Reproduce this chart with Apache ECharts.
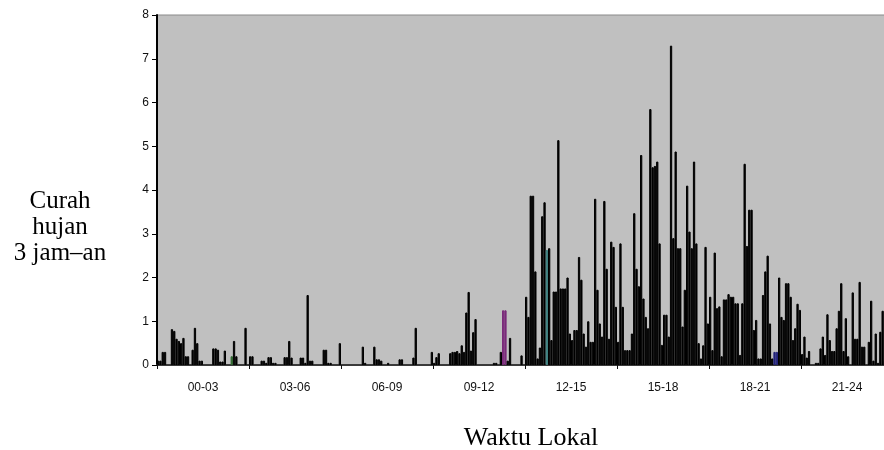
<!DOCTYPE html>
<html>
<head>
<meta charset="utf-8">
<script src="https://cdn.jsdelivr.net/npm/echarts@6/dist/echarts.min.js"></script>
<style>
html,body{margin:0;padding:0;background:#fff;}
#chart{width:884px;height:450px;}
</style>
</head>
<body>
<div id="chart"></div>
<script>
// 3-hour period categories (x-axis labels)
const periods = ['00-03','03-06','06-09','09-12','12-15','15-18','18-21','21-24'];

// Rainfall values, 40 bars per 3-hour period
const v0003 = [0.1,0.1,0.3,0.3,0,0,0.82,0.78,0.6,0.55, 0.5,0.62,0.2,0.2,0,0.35,0.85,0.5,0.1,0.1, 0,0,0,0,0.38,0.38,0.35,0.08,0.08,0.33, 0,0,0.2,0.55,0.2,0,0,0,0.85,0];
const v0306 = [0.2,0.2,0,0,0,0.1,0.1,0.05,0.18,0.18, 0.05,0.05,0,0,0,0.18,0.18,0.55,0.17,0, 0,0,0.17,0.17,0.05,1.6,0.1,0.1,0,0, 0,0,0.35,0.35,0.05,0.05,0,0,0,0.5];
const v0609 = [0,0,0,0,0,0,0,0,0,0.42, 0.05,0,0,0,0.42,0.13,0.13,0.1,0,0, 0.05,0,0,0,0,0.13,0.13,0,0,0, 0,0.17,0.85,0,0,0,0,0,0,0.3];
const v0912 = [0.05,0.18,0.27,0,0,0,0,0.27,0.3,0.3, 0.32,0.27,0.45,0.3,1.2,1.67,0.33,0.75,1.05,0, 0,0,0,0,0,0,0.05,0.05,0,0.3, 1.25,1.25,0.1,0.62,0,0,0,0,0.22,0];
const v1215 = [1.56,1.1,3.87,3.87,2.14,0.15,0.4,3.4,3.72,2.63, 2.67,0.57,1.68,1.68,5.14,1.75,1.75,1.75,2.0,0.72, 0.57,0.8,0.8,2.47,1.95,0.72,0.42,1.0,0.53,0.53, 3.8,1.72,0.95,0.65,3.75,2.2,0.6,2.82,2.7,1.33];
const v1518 = [0.53,2.78,1.33,0.34,0.34,0.34,0.72,3.47,2.2,1.8, 4.8,1.52,1.1,0.84,5.85,4.52,4.55,4.65,2.78,0.46, 1.15,1.15,0.65,7.3,2.9,4.88,2.67,2.67,0.88,1.72, 4.1,3.05,2.67,4.65,2.78,0.5,0.15,0.45,2.7,0.95];
const v1821 = [1.56,0.34,2.57,1.3,1.34,0.2,1.5,1.5,1.62,1.56, 1.56,1.41,1.41,0.23,1.41,4.6,2.72,3.55,3.55,0.8, 1.03,0.15,0.15,1.6,2.14,2.5,0.95,0.15,0.3,0.3, 2.0,1.1,1.03,1.87,1.87,1.56,0.57,0.84,1.4,1.26];
const v2124 = [0.25,0.65,0.17,0.32,0,0,0.05,0.05,0.38,0.65, 0.23,1.16,0.57,0.32,0.32,0.84,1.24,1.87,0.32,1.07, 0.2,0,1.66,0.6,0.6,1.9,0.42,0.42,0,0.53, 1.47,0.1,0.72,0.05,0.76,1.24,0.1,0,0,0];

const allValues = [].concat(v0003, v0306, v0609, v0912, v1215, v1518, v1821, v2124);
const barSlots = allValues.map((_, i) => String(i));

// a few bars drawn in colour in the original
const accent = {32:'#2f6a2f', 150:'#7a2a7a', 151:'#7a2a7a', 169:'#3d8080', 268:'#23237a', 269:'#23237a'};

const barData = allValues.map((v, i) => {
  const c = accent[i] || '#000000';
  return {value:v, itemStyle:{color:c, borderColor:c, borderWidth: v > 0 ? 1 : 0}};
});

const chart = echarts.init(document.getElementById('chart'), null, {renderer:'canvas'});
chart.setOption({
  animation:false,
  backgroundColor:'#ffffff',
  grid:{left:157, top:15, width:736, height:350, outerBoundsMode:'none', containLabel:false,
        show:true, backgroundColor:'#c0c0c0', borderColor:'#8a8a8a', borderWidth:1},
  xAxis:[{
    type:'category', data:periods, position:'bottom',
    axisLine:{lineStyle:{color:'#3a3a3a', width:2}},
    axisTick:{show:true, length:4, lineStyle:{color:'#111', width:1}},
    axisLabel:{color:'#111', fontFamily:'Liberation Sans, Arial, sans-serif', fontSize:12, margin:17},
    name:'Waktu Lokal', nameLocation:'middle', nameGap:60,
    nameTextStyle:{fontFamily:'Liberation Serif, Times New Roman, serif', fontSize:26, color:'#000', padding:[0,0,0,12]},
    splitLine:{show:false}
  },{
    type:'category', data:barSlots, show:false, position:'bottom'
  }],
  yAxis:{
    type:'value', min:0, max:8, interval:1,
    axisLine:{show:true, lineStyle:{color:'#000', width:2}},
    axisTick:{show:true, length:5, lineStyle:{color:'#000'}},
    axisLabel:{color:'#111', fontFamily:'Liberation Sans, Arial, sans-serif', fontSize:12, margin:8},
    splitLine:{show:false}
  },
  graphic:[{
    type:'text', x:60, y:227,
    style:{text:'Curah\nhujan\n3 jam\u2013an', fill:'#000', align:'center', verticalAlign:'middle',
           font:'25px "Liberation Serif", "Times New Roman", serif', lineHeight:26}
  }],
  series:[{
    type:'bar', xAxisIndex:1, data:barData,
    barCategoryGap:'0%', barGap:'0%'
  }]
});
</script>
</body>
</html>
